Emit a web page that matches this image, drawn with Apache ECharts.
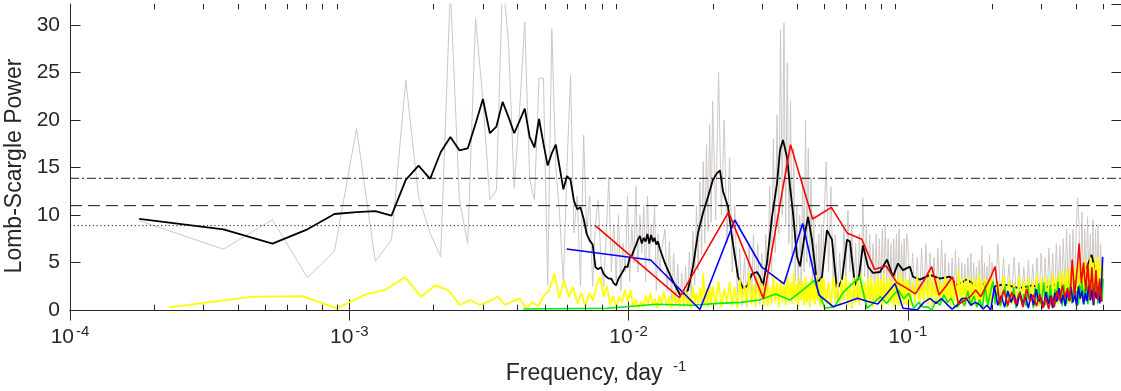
<!DOCTYPE html>
<html><head><meta charset="utf-8">
<script src="https://cdn.jsdelivr.net/npm/echarts@6/dist/echarts.min.js"></script>
<style>html,body{margin:0;padding:0;background:#fff}#c{width:1121px;height:391px}</style>
</head><body><div id="c"></div>
<script>
// ---------- data ----------
const xMin = 1e-4, xMax = 0.5843, yMin = 0, yMax = 32.2;
const yTickStep = 5;
const thresholds = [13.86, 10.98, 8.88];      // dash-dot, dashed, dotted
const minorTickF = [2e-4,3e-4,4e-4,5e-4,6e-4,7e-4,8e-4,9e-4,0.002,0.003,0.004,0.005,0.006,0.007,0.008,0.009,0.02,0.03,0.04,0.05,0.06,0.07,0.08,0.09,0.2,0.3,0.4,0.5];

// low-frequency grid of the full-record periodogram (step in 1/day)
const lowStep = 0.000177;
const blackLow = [9.58,8.49,6.98,8.49,10.1,10.3,10.4,9.93,13.7,15.2,13.8,16.6,18.2,16.8,17.0,19.6,22.2,18.6,19.3,21.9,20.3,18.6,19.9,21.2,18.2,17.1,20.1,17.5,15.2,16.5,17.4,15.0,12.7,14.1,13.7,11.5,10.6,10.8,9.6,8.0,7.3,6.9,4.5,4.3,4.5,3.8,3.5,3.3,3.3,2.8,2.6,3.3,3.7,4.1,4.6,4.5,5.5,5.7,6.3,6.8,7.4,7.8,7.0,7.6,7.2,8.0,7.0,7.9,7.2,7.6,6.9,7.2,6.5,6.3];
const grayLow = [9.4,6.4,9.5,3.4,6.2,19.1,5.1,7.4,24.2,11.9,8.1,5.6,34,11.6,7.0,30.7,22.1,11.6,12.6,35,28.1,12.8,21,30.3,13.7,11.6,24.4,24.4,2.6,29.6,15,10,2.8,15,24.7,8.1,12,2.5,18.4,8.1,12,2.5,9,11.6,5,2.5,8,14,4,9,3,10,2,7,4,12,3,9,5,13,4,10,6,11,3,12,5,9,7,11,2,8,4,6];

// black (smoothed) at higher frequencies
const fBlackHi = [0.0135,0.01407,0.01466,0.01528,0.01579,0.01632,0.01701,0.01772,0.01847,0.01924,0.02005,0.02073,0.02125,0.02178,0.02269,0.02345,0.02404,0.02465,0.02568,0.02654,0.02766,0.02882,0.02954,0.03028,0.0313,0.03262,0.03399,0.03484,0.03571,0.03691,0.03784,0.03879,0.04009,0.0411,0.0428,0.0439,0.04535,0.04726,0.04925,0.05132,0.05348,0.05573,0.05808,0.06053,0.06204,0.06465,0.06681,0.06905,0.07196,0.07499,0.07945,0.08417,0.08845,0.09216,0.09605,0.1017,0.1043,0.1105,0.12,0.13,0.1415,0.15,0.1628,0.175,0.19,0.2,0.22,0.25,0.28,0.3,0.33,0.36,0.39,0.41,0.43,0.455,0.474,0.5];
const blackHi = [4.9,3.7,2.6,1.6,1.75,2.1,4.6,8.1,10.2,11.9,13.7,14.4,14.7,12.5,10.9,7.7,5.6,3.5,2.3,2.5,3.8,4.0,3.5,2.6,5.0,9.8,13.3,16.8,17.9,16.1,13.0,10.2,5.6,4.6,8.1,9.8,7.4,2.8,3.5,8.4,7.4,2.1,3.2,7.4,7.2,2.6,3.5,6.8,4.56,3.9,4.0,5.3,3.5,4.9,4.2,4.56,3.5,3.2,3.7,3.3,3.5,2.6,3.2,2.5,2.8,2.4,2.7,2.3,2.6,2.2,2.6,2.8,3.0,3.5,4.0,5.8,3.5,3.0];

// sample frequencies of the dense high-frequency band
const fHi = [0.0135,0.01375,0.014,0.01425,0.0145,0.01475,0.015,0.01525,0.0155,0.01575,0.016,0.01625,0.0165,0.01675,0.017,0.01725,0.0175,0.01775,0.018,0.01825,0.0185,0.01875,0.019,0.01925,0.0195,0.01975,
0.02,0.0205,0.021,0.0215,0.022,0.0225,0.023,0.0235,0.024,0.0245,0.025,0.0255,0.026,0.0265,0.027,0.0275,0.028,0.0285,0.029,0.0295,0.03,0.0305,0.031,0.0315,0.032,0.0325,0.033,0.0335,0.034,0.0345,0.035,0.0355,0.036,0.0365,0.037,0.0375,0.038,0.0385,0.039,0.0395,0.04,0.0405,0.041,0.0415,0.042,0.0425,0.043,0.0435,0.044,0.0445,0.045,0.0455,0.046,0.0465,0.047,0.0475,0.048,0.0485,0.049,0.0495,
0.05,0.051,0.052,0.053,0.054,0.055,0.056,0.057,0.058,0.059,0.06,0.061,0.062,0.063,0.064,0.065,0.066,0.067,0.068,0.069,0.07,0.071,0.072,0.073,0.074,0.075,0.076,0.077,0.078,0.079,0.08,0.081,0.082,0.083,0.084,0.085,0.086,0.087,0.088,0.089,0.09,0.091,0.092,0.093,0.094,0.095,0.096,0.097,0.098,0.099,
0.1,0.102,0.104,0.106,0.108,0.11,0.112,0.114,0.116,0.118,0.12,0.122,0.124,0.126,0.128,0.13,0.132,0.134,0.136,0.138,0.14,0.142,0.144,0.146,0.148,0.15,0.152,0.154,0.156,0.158,0.16,0.162,0.164,0.166,0.168,0.17,0.172,0.174,0.176,0.178,0.18,0.182,0.184,0.186,0.188,0.19,0.192,0.194,0.196,0.198,
0.2,0.205,0.21,0.215,0.22,0.225,0.23,0.235,0.24,0.245,0.25,0.255,0.26,0.265,0.27,0.275,0.28,0.285,0.29,0.295,0.3,0.305,0.31,0.315,0.32,0.325,0.33,0.335,0.34,0.345,0.35,0.355,0.36,0.365,0.37,0.375,0.38,0.385,0.39,0.395,0.4,0.405,0.41,0.415,0.42,0.425,0.43,0.435,0.44,0.445,0.45,0.455,0.46,0.465,0.47,0.475,0.48,0.485,0.49,0.495,0.5];
const grayHi = [8.5,2.0,7.2,1.1,6.0,0.9,4.8,0.4,3.9,0.3,4.6,0.6,6.1,1.4,8.3,2.6,10.9,4.2,13.5,5.8,15.6,7.0,17.4,8.3,19.5,9.2,
22,9.5,25,10,20,7,16,4,11,1.5,6.5,0.4,5.5,0.3,7,0.8,8,1.2,7,0.6,6,0.4,8,1.5,13,4,18,6,20.5,8,29.5,10,30.2,9,26,7,22,5,17,3,11,2,10,2.5,14,4,20,5,17,4.5,14,3,10,1.5,7,1,8,1.2,9,1.5,
9,15.6,4,13,3,8,0.8,6,1,9,3,10.5,4,9,1.2,7,1,8,3,11.8,3.5,9,2,8,1.5,7,2,8,1.5,7.5,2,8.6,2.5,9,2.5,7.5,1.5,7,1,7.5,2,8,2.5,8.5,2,7,1.5,7.5,2,8,
7,1.5,6,1,5.5,1.2,6.5,1,7,1.5,6,0.8,5.5,1,6.5,1.2,7.4,1.5,6,1,5,0.8,5.5,1,6.3,1.2,5.5,0.8,5,1,4.8,0.6,5.5,1,6,0.8,5,1,4.5,0.7,5.2,1,6.8,1,5,0.8,4.6,1,5.8,0.9,
5,1,7,1.2,5.5,0.8,4.8,1,5.6,0.9,5,1,4.5,0.8,5.2,1,4.8,1.2,5.5,1,6,1.3,5.5,1,6.5,1.5,6,1.2,7,1.5,6.8,1.8,7.5,2,8.5,1.8,8,2.2,8.5,2.5,8,11.8,9,2.2,10.3,2.5,8.5,2,9.8,2.5,8,1.8,9.5,2.2,8.5,2,9,1.5,7,1.5,5.5];

// yellow series: low-frequency grid + dense band
const yLowStep = 0.000226;
const yellowLow = [0.28,1.4,1.47,0.18,1.58,2.18,3.44,1.4,2.6,2.1,0.53,1.05,0.53,0.9,1.4,0.53,0.9,1.23,0.18,0.8,0.4,1.5,2.1,3.86,1.23,3.16,1.4,2.4,0.7,1.8,0.4,1.8,1.0,2.6,3.5,1.4,2.5,0.5,1.5,0.3,1.4,0.8,2.1,0.9,2.1,0.3,1.1,0.2,0.9,0.3,1.5,0.6,1.8,0.4,1.2,0.2,1.5,0.6,1.9];
const yellowHi = [1.9,0.4,1.5,0.2,2.0,0.5,1.2,0.3,1.8,0.6,2.1,0.4,1.5,0.2,2.5,0.7,1.8,0.5,2.3,0.8,3.86,0.6,2.2,0.3,2.8,0.5,
2.5,0.5,3.0,0.3,2.2,0.8,2.9,0.4,2.45,0.2,3.2,0.9,2.6,0.5,3.86,0.6,2.7,0.3,3.4,1.0,2.8,0.5,3.0,0.4,2.5,0.6,3.5,0.9,2.9,0.3,3.2,0.8,2.7,0.5,3.6,1.1,3.0,0.6,3.86,0.9,2.8,0.4,3.3,1.0,3.0,0.5,3.5,0.8,2.9,0.3,3.4,0.9,3.1,0.6,3.7,1.0,3.0,0.4,3.3,0.7,
3.3,0.6,3.0,0.3,3.5,0.9,2.8,0.4,3.2,1.0,3.6,0.5,2.9,0.2,3.4,0.8,3.1,0.5,3.7,1.1,3.0,0.4,3.3,0.7,3.5,0.3,2.9,0.9,3.6,0.6,3.2,0.2,3.8,1.0,3.0,0.5,3.4,0.8,3.1,0.3,3.5,0.7,3.3,0.4,3.9,1.1,3.0,0.6,3.4,0.5,
3.2,0.5,2.9,0.8,3.5,0.4,3.0,1.0,3.3,0.6,3.9,0.3,3.1,0.9,3.4,0.5,2.9,1.1,3.6,0.6,3.2,0.3,3.5,0.8,3.0,0.5,4.2,1.0,3.3,0.4,3.1,0.9,3.6,0.6,2.9,0.3,3.4,1.0,3.2,0.5,3.8,0.8,3.0,0.4,3.3,1.1,3.1,0.6,3.5,0.5,
3.3,0.8,3.0,0.4,3.6,1.0,3.2,0.6,2.9,0.3,3.5,0.9,3.1,0.5,3.4,1.1,3.0,0.6,3.7,0.4,3.3,1.0,3.6,0.7,3.2,0.5,3.8,1.2,3.5,0.6,4.1,0.9,3.8,1.3,4.4,0.7,4.2,1.1,4.8,0.9,4.4,1.4,5.0,1.0,4.6,1.5,5.3,1.2,4.8,1.6,5.6,1.3,5.0,1.7,5.4,1.2,5.6,1.5,4.9,1.0,4.5];

// segment periodograms (regular grids, step in 1/day)
const greenStep = 0.0042;
const greenV = [0.1,0.18,0.6,0.5,0.7,0.8,1.05,1.68,1.05,2.1,3.1,0.18,0.35,1.9,2.7,3.5,0.18,0.8,1.4,0.7,1.5,2.1,1.2,1.75,
0.18,0.8,0.3,0.35,0.0,0.9,0.5,1.6,0.8,1.23,0.4,0.35,1.2,0.4,2.0,0.6,1.5,0.3,1.1,0.2,2.6,0.5,1.8,3.0,0.6,2.2,0.4,1.4,2.5,0.3,1.6,0.8,2.4,0.2,1.3,2.0,0.5,1.7,0.4,2.6,0.9,1.5,0.2,2.3,1.0,2.8,0.6,1.4,2.9,0.5,1.9,0.7,2.6,1.2,0.3,2.2,0.8,3.0,1.1,2.0,0.4,2.7,1.3,0.6,2.4,1.0,2.9,0.7,1.8,3.1,0.9,2.0,0.5,2.7,1.4,3.0,0.8,2.2,1.0,2.9,0.6,1.9,3.2,1.1,2.4,0.5,2.8,1.3,2.5,0.7,3.0,1.2,2.6,0.9,3.3];
const blueStep = 0.006;
const blueV = [6.42,5.26,0.05,9.47,4.5,2.74,9.1,1.6,0.35,0.8,1.23,0.9,0.63,1.7,2.8,0.18,0.1,0.0,0.8,1.23,
0.7,1.2,0.6,0.1,0.5,1.2,1.23,0.5,0.8,0.6,0.1,0.5,0.0,2.45,0.5,1.5,0.3,2.0,0.8,1.6,0.4,1.8,0.6,1.4,0.2,1.7,0.5,2.2,0.9,1.3,0.3,1.9,0.6,1.5,0.2,1.8,0.9,2.3,0.7,1.6,0.4,2.0,1.0,2.4,0.8,1.7,0.4,2.5,1.2,2.0,0.6,1.8,0.9,2.6,1.0,2.1,0.5,1.9,1.2,2.4,0.7,1.5,5.6];
const redStep = 0.0076;
const redV = [8.88,1.3,10.3,1.2,17.4,9.58,10.8,8.07,7.44,4.28,4.63,2.9,2.3,1.7,3.1,4.56,1.58,2.5,3.5,0.6,1.0,1.4,2.1,1.4,2.4,3.4,
4.56,0.7,2.1,0.5,1.9,0.6,1.8,0.3,2.2,0.9,1.6,0.4,1.7,0.2,1.3,0.1,1.5,0.3,2.0,1.0,2.6,1.3,2.3,0.9,5.3,1.5,4.0,7.0,2.8,5.0,2.0,4.9,1.2,4.5,0.8,4.2,1.0,3.3,0.88];

// ---------- build ----------
const AX = '#262626', FONT = 'Liberation Sans';
const zip = (fs, vs) => fs.map((f, i) => [f, vs[i]]);
const onGrid = (step, vs) => vs.map((v, i) => [+(step * (i + 1)).toFixed(7), v]);

const grayData = onGrid(lowStep, grayLow).concat(zip(fHi, grayHi));
const blackData = onGrid(lowStep, blackLow).concat(zip(fBlackHi, blackHi));
const yellowData = onGrid(yLowStep, yellowLow).concat(zip(fHi, yellowHi));
const greenData = onGrid(greenStep, greenV);
const blueData = onGrid(blueStep, blueV);
const redData = onGrid(redStep, redV);

function lineS(data, color, width, z, type) {
  return { type: 'line', data, symbol: 'none', showSymbol: false, z, clip: true,
    xAxisIndex: 0, yAxisIndex: 0, silent: true, animation: false,
    lineStyle: { color, width, type: type || 'solid' }, emphasis: { disabled: true } };
}
const dashTypes = [[9, 3, 2, 3], [12, 6], [1.2, 2.6]];
const thrSeries = thresholds.map((v, i) => lineS([[xMin, v], [xMax, v]], '#1a1a1a', 1, 20, dashTypes[i]));

const minorTicks = {
  type: 'custom', xAxisIndex: 0, yAxisIndex: 0, silent: true, clip: false, z: 30, animation: false,
  data: minorTickF.map(f => [f, 0]), encode: { x: 0, y: 1 },
  renderItem: (params, api) => {
    const f = api.value(0);
    const b = api.coord([f, yMin]), t = api.coord([f, yMax]);
    const x = Math.round(b[0]) + 0.5;
    return { type: 'group', children: [
      { type: 'line', shape: { x1: x, y1: b[1], x2: x, y2: b[1] - 5.3 }, style: { stroke: AX, lineWidth: 1 } },
      { type: 'line', shape: { x1: x, y1: t[1], x2: x, y2: t[1] + 5.3 }, style: { stroke: AX, lineWidth: 1 } }
    ]};
  }
};

const supRich = {
  b: { fontSize: 21, fontFamily: FONT, color: AX, lineHeight: 26 },
  s: { fontSize: 15, fontFamily: FONT, color: AX, lineHeight: 13, verticalAlign: 'top', padding: [0, 0, 0, 2] }
};

const chart = echarts.init(document.getElementById('c'), null, { renderer: 'canvas' });
chart.setOption({
  animation: false,
  backgroundColor: '#fff',
  grid: { left: 70, right: -1, top: 4, bottom: 81, containLabel: false, outerBoundsMode: 'none' },
  xAxis: [{
    type: 'log', logBase: 10, min: xMin, max: xMax, position: 'bottom',
    axisLine: { show: true, lineStyle: { color: AX, width: 1 } },
    axisTick: { show: true, inside: true, length: 10.5, lineStyle: { color: AX } },
    splitLine: { show: false }, minorTick: { show: false },
    axisLabel: { show: true, margin: 14, showMaxLabel: false,
      formatter: v => '{b|10}{s|' + Math.round(Math.log10(v)) + '}', rich: supRich },
    name: '{b|Frequency, day }{s|-1}', nameLocation: 'middle', nameGap: 49,
    nameTextStyle: { rich: {
      b: { fontSize: 23, fontFamily: FONT, color: AX, lineHeight: 30 },
      s: { fontSize: 15, fontFamily: FONT, color: AX, lineHeight: 12, verticalAlign: 'top', padding: [0, 0, 0, 4] } } }
  }, {
    type: 'log', logBase: 10, min: xMin, max: xMax, position: 'top',
    axisLine: { show: true, lineStyle: { color: AX, width: 1 } },
    axisTick: { show: true, inside: true, length: 10.5, lineStyle: { color: AX } },
    axisLabel: { show: false }, splitLine: { show: false }
  }],
  yAxis: [{
    type: 'value', min: yMin, max: yMax, interval: yTickStep, position: 'left',
    axisLine: { show: true, lineStyle: { color: AX, width: 1 } },
    axisTick: { show: true, inside: true, length: 10.5, lineStyle: { color: AX } },
    splitLine: { show: false },
    axisLabel: { show: true, margin: 10, showMaxLabel: false, fontSize: 21, fontFamily: FONT, color: AX },
    name: 'Lomb-Scargle Power', nameLocation: 'middle', nameGap: 42,
    nameTextStyle: { fontSize: 23, fontFamily: FONT, color: AX, padding: [0, 18, 0, 0] }
  }, {
    type: 'value', min: yMin, max: yMax, interval: yTickStep, position: 'right',
    axisLine: { show: true, lineStyle: { color: AX, width: 1 } },
    axisTick: { show: true, inside: true, length: 10.5, lineStyle: { color: AX } },
    splitLine: { show: false }, axisLabel: { show: false }
  }],
  series: [
    lineS(grayData, '#ccc8c3', 1, 2),
    lineS(blackData, '#000000', 1.8, 3),
    lineS(yellowData, '#ffff00', 1.8, 4),
    lineS(greenData, '#00ee00', 1.6, 5),
    lineS(blueData, '#0000ff', 1.6, 6),
    lineS(redData, '#ff0000', 1.6, 7),
    ...thrSeries,
    minorTicks
  ]
});
</script>
</body></html>
